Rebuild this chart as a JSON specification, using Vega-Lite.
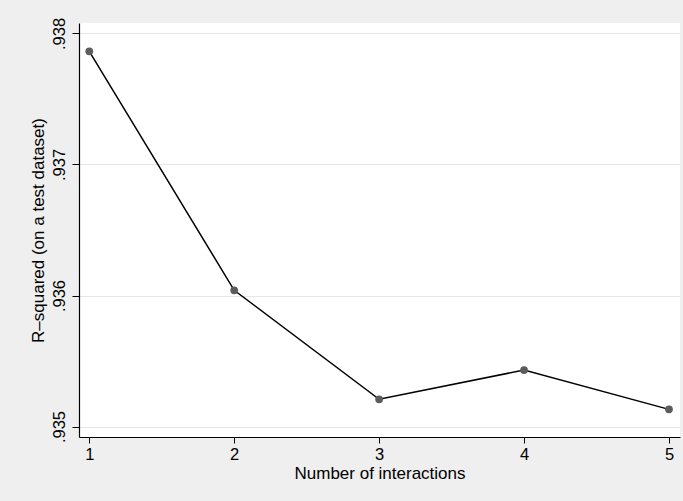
{
  "$schema": "https://vega.github.io/schema/vega-lite/v6.json",
  "width": 601,
  "height": 414,
  "autosize": {"type": "none"},
  "padding": {"left": 79, "top": 23, "right": 3, "bottom": 64},
  "background": "#efefef",
  "config": {
    "view": {"fill": "white", "stroke": null},
    "font": "Liberation Sans",
    "axis": {
      "domainColor": "black",
      "domainWidth": 1.2,
      "tickColor": "black",
      "tickWidth": 1,
      "labelColor": "black",
      "titleColor": "black",
      "labelFont": "Liberation Sans",
      "titleFont": "Liberation Sans",
      "labelFontSize": 16.5,
      "titleFontSize": 17,
      "titleFontWeight": "normal"
    }
  },
  "data": {
    "values": [
      {"n": 1, "r2": 0.937864},
      {"n": 2, "r2": 0.93604},
      {"n": 3, "r2": 0.935208},
      {"n": 4, "r2": 0.935431},
      {"n": 5, "r2": 0.935131}
    ]
  },
  "encoding": {
    "x": {
      "field": "n",
      "type": "quantitative",
      "title": "Number of interactions",
      "scale": {"domain": [0.929, 5.076], "nice": false, "zero": false},
      "axis": {
        "values": [1, 2, 3, 4, 5],
        "format": "d",
        "grid": false,
        "tickSize": 6,
        "labelPadding": 3,
        "titlePadding": 3
      }
    },
    "y": {
      "field": "r2",
      "type": "quantitative",
      "title": "R–squared (on a test dataset)",
      "scale": {"domain": [0.93492, 0.93808], "nice": false, "zero": false},
      "axis": {
        "values": [0.935, 0.936, 0.937, 0.938],
        "labelExpr": "slice(format(datum.value, '.3f'), 1)",
        "grid": true,
        "gridColor": "#e6e6e6",
        "gridWidth": 1.2,
        "tickSize": 7,
        "labelAngle": 270,
        "labelAlign": "center",
        "labelBaseline": "alphabetic",
        "labelPadding": 8,
        "titlePadding": 4
      }
    }
  },
  "layer": [
    {"mark": {"type": "line", "color": "black", "strokeWidth": 1.5}},
    {"mark": {"type": "point", "filled": true, "color": "#5c5c5c", "opacity": 1, "size": 60}}
  ]
}
